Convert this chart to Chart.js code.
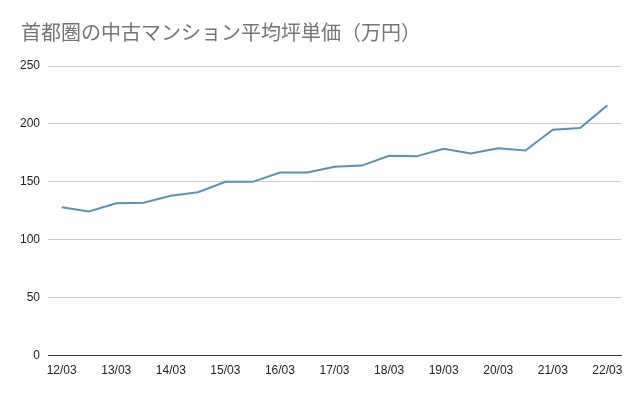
<!DOCTYPE html>
<html>
<head>
<meta charset="utf-8">
<script src="https://cdn.jsdelivr.net/npm/chart.js@4/dist/chart.umd.min.js"></script>
<style>
html,body{margin:0;padding:0;background:#fff;}
#wrap{width:640px;height:396px;}
</style>
</head>
<body>
<div id="wrap"><canvas id="c" width="640" height="396"></canvas></div>
<script>
const titleText = "首都圏の中古マンション平均坪単価（万円）";
const categories = ["12/03","12/09","13/03","13/09","14/03","14/09","15/03","15/09","16/03","16/09","17/03","17/09","18/03","18/09","19/03","19/09","20/03","20/09","21/03","21/09","22/03"];
const values = [128,124.5,131.5,132,138,141,150,150,158,158,163,164,172.5,172,178.5,174.5,179,177,195,196.5,216];
const yTicks = [0,50,100,150,200,250];

const titlePlugin = {
  id: 'leftTitle',
  afterDraw(chart) {
    const ctx = chart.ctx;
    ctx.save();
    ctx.fillStyle = '#757575';
    ctx.font = 'normal 20px "Noto Sans CJK JP", sans-serif';
    ctx.textBaseline = 'middle';
    ctx.textAlign = 'left';
    ctx.fillText(titleText, 21, 32);
    ctx.restore();
  }
};

new Chart(document.getElementById('c'), {
  type: 'line',
  data: {
    labels: categories,
    datasets: [{
      data: values,
      borderColor: '#5a93b2',
      borderWidth: 2,
      pointRadius: 0,
      tension: 0,
      fill: false
    }]
  },
  plugins: [titlePlugin],
  options: {
    responsive: false,
    animation: false,
    layout: { padding: { left: 12, right: 19, top: 66, bottom: 18 } },
    plugins: {
      legend: { display: false },
      tooltip: { enabled: false },
      title: { display: false }
    },
    scales: {
      x: {
        offset: true,
        grid: { display: false },
        border: { display: true, color: '#333333', width: 1 },
        ticks: {
          autoSkip: false,
          maxRotation: 0,
          color: '#222222',
          font: { family: '"Liberation Sans", Arial, sans-serif', size: 12 },
          padding: 0,
          callback: function(v, i) { return i % 2 === 0 ? categories[i] : ''; }
        }
      },
      y: {
        min: yTicks[0],
        max: yTicks[yTicks.length - 1],
        afterBuildTicks: function(axis) { axis.ticks = yTicks.map(v => ({ value: v })); },
        grid: { color: '#cccccc', drawTicks: false, lineWidth: 1 },
        border: { display: false },
        ticks: {
          color: '#222222',
          font: { family: '"Liberation Sans", Arial, sans-serif', size: 12 },
          padding: 8
        }
      }
    }
  }
});
</script>
</body>
</html>
